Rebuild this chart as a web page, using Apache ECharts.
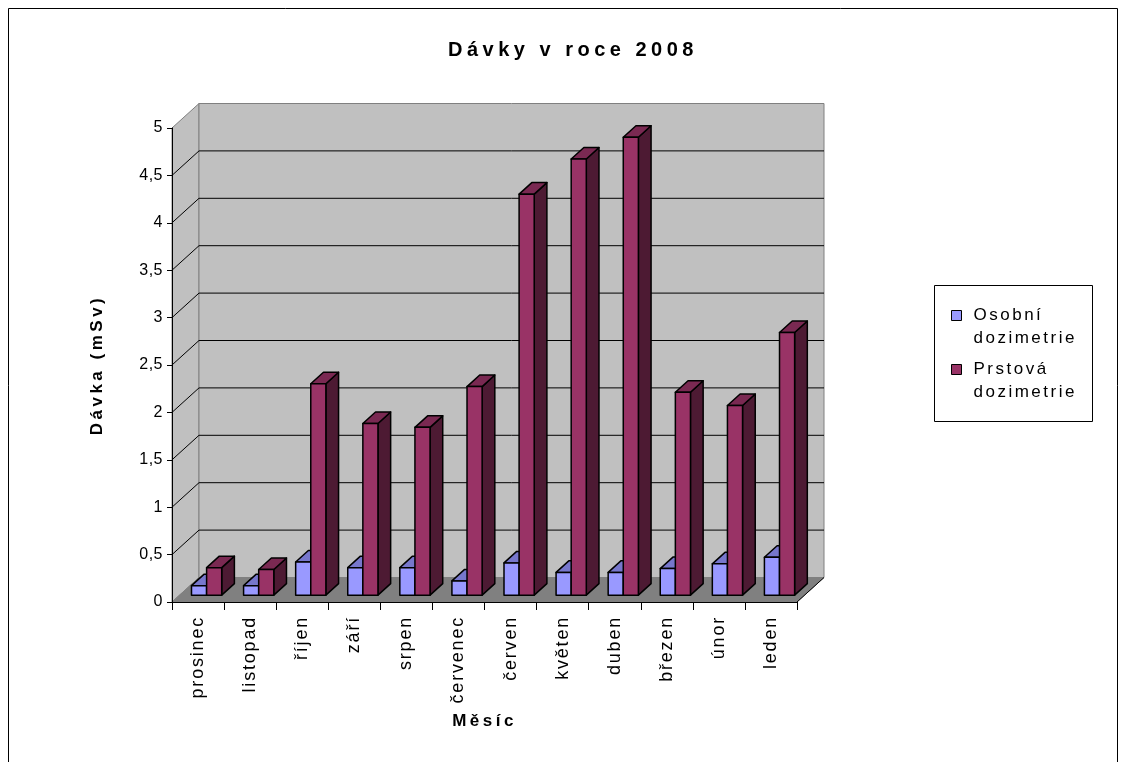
<!DOCTYPE html>
<html>
<head>
<meta charset="utf-8">
<script src="https://cdn.jsdelivr.net/npm/echarts@6/dist/echarts.min.js"></script>
<style>
  html, body { margin: 0; padding: 0; background: #ffffff; }
  #chart { width: 1125px; height: 762px; }
</style>
</head>
<body>
<div id="chart"></div>
<script>
// Měsíce (pořadí podle osy X)
const months = ['prosinec', 'listopad', 'říjen', 'září', 'srpen', 'červenec',
                'červen', 'květen', 'duben', 'březen', 'únor', 'leden'];
// Osobní dozimetrie (mSv)
const osobni = [0.10, 0.10, 0.35, 0.29, 0.29, 0.15, 0.34, 0.24, 0.24, 0.28, 0.33, 0.40];
// Prstová dozimetrie (mSv)
const prstova = [0.29, 0.27, 2.23, 1.81, 1.77, 2.20, 4.23, 4.60, 4.83, 2.14, 2.00, 2.77];
// Hodnoty mřížky na zadní stěně
const gridValues = [0.5, 1, 1.5, 2, 2.5, 3, 3.5, 4, 4.5];

const seriesNames = ['Osobní dozimetrie', 'Prstová dozimetrie'];

// Prostorový posun do hloubky (px) a umístění sloupců v hloubce
const DX = 27, DY = -24.5;
const F0 = 0.28, F1 = 0.75;
const FONT = "'Liberation Sans', Arial, sans-serif";

// Prostrkání písma (px) podle řezu a velikosti
const TRACKING = { 'bold 20': 4.5, 'bold 17': 3.5, 'normal 17': 2.5, 'normal 16': 0.5, 'normal 18': 1.8 };
function trackingFor(font) {
  const m = /(\d+(?:\.\d+)?)px/.exec(font || '');
  if (!m) return 0;
  const bold = /bold|[6-9]00/.test(font);
  return TRACKING[(bold ? 'bold ' : 'normal ') + Math.round(+m[1])] || 0;
}
['fillText', 'strokeText', 'measureText'].forEach(function (fn) {
  const orig = CanvasRenderingContext2D.prototype[fn];
  CanvasRenderingContext2D.prototype[fn] = function () {
    if ('letterSpacing' in this) this.letterSpacing = trackingFor(this.font) + 'px';
    return orig.apply(this, arguments);
  };
});

const palette = [
  { front: '#9999FF', top: '#7777CC', side: '#6666AA' },
  { front: '#993366', top: '#7A2952', side: '#4D1A33' }
];

// Zadní stěna, boční stěna, podlaha a mřížka
function renderFrame(params, api) {
  const cs = params.coordSys;
  const L = cs.x, T = cs.y, R = cs.x + cs.width, B = cs.y + cs.height;
  const children = [];
  children.push({
    type: 'polygon',
    shape: { points: [[L, B], [L, T], [L + DX, T + DY], [L + DX, B + DY]] },
    style: { fill: '#C0C0C0', stroke: '#808080', lineWidth: 1 }
  });
  children.push({
    type: 'rect',
    shape: { x: L + DX, y: T + DY, width: R - L, height: B - T },
    style: { fill: '#C0C0C0', stroke: '#808080', lineWidth: 1 }
  });
  gridValues.forEach(function (v) {
    const y = api.coord([0, v])[1];
    children.push({
      type: 'line',
      shape: { x1: L + DX, y1: y + DY, x2: R + DX, y2: y + DY },
      style: { stroke: '#000000', lineWidth: 1 }
    });
    children.push({
      type: 'line',
      shape: { x1: L, y1: y, x2: L + DX, y2: y + DY },
      style: { stroke: '#000000', lineWidth: 1 }
    });
  });
  children.push({
    type: 'polygon',
    shape: { points: [[L, B], [R, B], [R + DX, B + DY], [L + DX, B + DY]] },
    style: { fill: '#808080', stroke: '#808080', lineWidth: 1 }
  });
  children.push({
    type: 'line',
    shape: { x1: R, y1: B, x2: R + DX, y2: B + DY },
    style: { stroke: '#000000', lineWidth: 1 }
  });
  return { type: 'group', children: children };
}

// Kvádrový sloupec: přední stěna, bok a vršek
function makeBarRenderer(idx) {
  const col = palette[idx];
  return function (params, api) {
    const i = api.value(0), v = api.value(1);
    const top = api.coord([i, v]);
    const base = api.coord([i, 0]);
    const band = api.size([1, 0])[0];
    const bw = band * 0.29;
    const x0 = top[0] + (idx === 0 ? -bw : 0) + F0 * DX + 1;
    const yT = top[1] + F0 * DY;
    const yB = base[1] + F0 * DY;
    const dx = (F1 - F0) * DX, dy = (F1 - F0) * DY;
    const st = { stroke: '#000000', lineWidth: 1.5, lineJoin: 'round' };
    return {
      type: 'group',
      children: [
        {
          type: 'polygon',
          shape: { points: [[x0 + bw, yB], [x0 + bw, yT], [x0 + bw + dx, yT + dy], [x0 + bw + dx, yB + dy]] },
          style: Object.assign({ fill: col.side }, st)
        },
        {
          type: 'polygon',
          shape: { points: [[x0, yT], [x0 + bw, yT], [x0 + bw + dx, yT + dy], [x0 + dx, yT + dy]] },
          style: Object.assign({ fill: col.top }, st)
        },
        {
          type: 'rect',
          shape: { x: x0, y: yT, width: bw, height: yB - yT },
          style: Object.assign({ fill: col.front }, st)
        }
      ]
    };
  };
}

const chart = echarts.init(document.getElementById('chart'), null, { renderer: 'canvas' });

chart.setOption({
  backgroundColor: '#ffffff',
  animation: false,
  textStyle: { fontFamily: FONT },
  title: {
    text: 'Dávky v roce 2008',
    left: 568,
    top: 33,
    textAlign: 'center',
    textStyle: { fontFamily: FONT, fontSize: 20, fontWeight: 'bold', color: '#000000' }
  },
  graphic: [
    {
      type: 'rect',
      shape: { x: 8.5, y: 8.5, width: 1109, height: 800 },
      style: { fill: 'none', stroke: '#000000', lineWidth: 1 },
      silent: true, z: 0
    },
    {
      type: 'rect',
      shape: { x: 934.5, y: 285.5, width: 158, height: 136 },
      style: { fill: '#ffffff', stroke: '#000000', lineWidth: 1 },
      silent: true, z: 0
    }
  ],
  legend: {
    data: seriesNames,
    orient: 'vertical',
    left: 951,
    top: 281,
    padding: 0,
    itemWidth: 10,
    itemHeight: 10,
    itemGap: -15,
    icon: 'rect',
    itemStyle: { borderColor: '#000000', borderWidth: 1 },
    // první řádek názvu zarovnaný se značkou
    formatter: function (name) { return ' \n' + name.replace(' ', '\n'); },
    textStyle: {
      fontFamily: FONT, fontSize: 17, color: '#000000',
      lineHeight: 23, padding: [0, 0, 0, 7]
    },
    z: 5
  },
  grid: {
    left: 172, top: 128, width: 625, height: 474,
    containLabel: false, outerBoundsMode: 'none'
  },
  xAxis: {
    type: 'category',
    data: months,
    boundaryGap: true,
    z: 10,
    name: 'Měsíc',
    nameLocation: 'middle',
    nameGap: 103,
    nameTextStyle: { fontFamily: FONT, fontSize: 17, fontWeight: 'bold', color: '#000000' },
    axisLine: { show: true, lineStyle: { color: '#000000', width: 1 } },
    axisTick: { show: true, length: 8, interval: 0, lineStyle: { color: '#000000' } },
    axisLabel: {
      interval: 0, rotate: 90, margin: 14,
      fontFamily: FONT, fontSize: 18, color: '#000000'
    },
    splitLine: { show: false }
  },
  yAxis: {
    type: 'value',
    min: 0, max: 5, interval: 0.5,
    z: 10,
    name: 'Dávka (mSv)',
    nameLocation: 'middle',
    nameRotate: 90,
    nameGap: 64,
    nameTextStyle: { fontFamily: FONT, fontSize: 17, fontWeight: 'bold', color: '#000000' },
    axisLine: { show: true, lineStyle: { color: '#000000', width: 1 } },
    axisTick: { show: true, length: 5, lineStyle: { color: '#000000' } },
    axisLabel: {
      margin: 9, fontFamily: FONT, fontSize: 16, color: '#000000',
      formatter: function (v) { return String(v).replace('.', ','); }
    },
    splitLine: { show: false }
  },
  series: [
    {
      name: 'frame',
      type: 'custom',
      silent: true,
      z: 1,
      renderItem: renderFrame,
      data: [[0, 0]]
    },
    {
      name: seriesNames[0],
      type: 'custom',
      z: 2,
      itemStyle: { color: palette[0].front },
      renderItem: makeBarRenderer(0),
      data: osobni.map(function (v, i) { return [i, v]; })
    },
    {
      name: seriesNames[1],
      type: 'custom',
      z: 3,
      itemStyle: { color: palette[1].front },
      renderItem: makeBarRenderer(1),
      data: prstova.map(function (v, i) { return [i, v]; })
    }
  ]
});
</script>
</body>
</html>
